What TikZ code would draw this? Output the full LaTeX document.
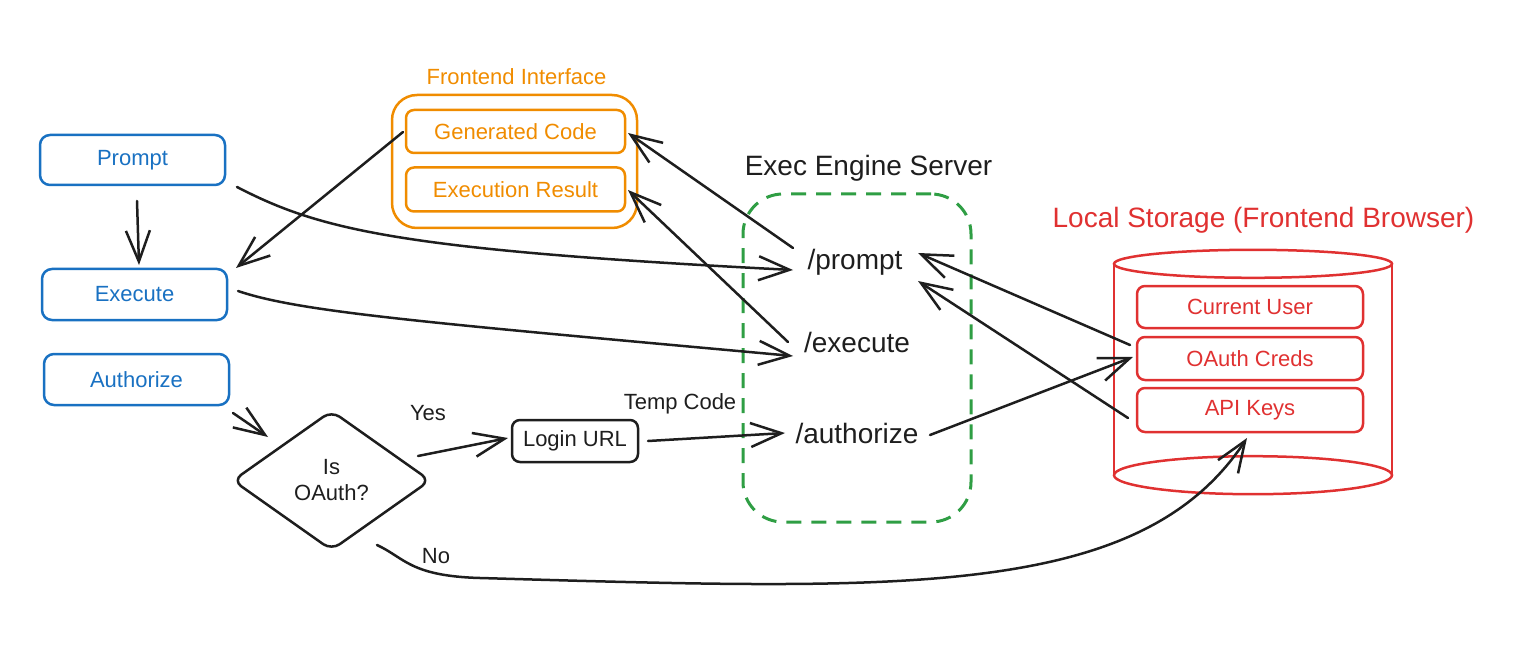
\documentclass[tikz,border=0pt]{standalone}
\usepackage{fontspec}
\setmainfont{Liberation Sans}
\usetikzlibrary{arrows.meta,shapes.geometric,calc}
\definecolor{cblue}{HTML}{1971C2}
\definecolor{corange}{HTML}{F08C00}
\definecolor{cgreen}{HTML}{2F9E44}
\definecolor{cred}{HTML}{E03131}
\definecolor{ink}{HTML}{1E1E1E}
\begin{document}
\begin{tikzpicture}[x=1pt,y=-1pt,
  txt/.style={font=\fontsize{22}{26}\selectfont},
  big/.style={font=\fontsize{28}{32}\selectfont},
  bluebox/.style={draw=cblue, line width=2.5pt, rounded corners=10pt, minimum width=185pt, minimum height=50pt, text=cblue, txt, inner sep=0pt},
  orangebox/.style={draw=corange, line width=2.5pt, rounded corners=8pt, minimum width=219pt, minimum height=43pt, text=corange, txt, inner sep=0pt},
  redbox/.style={draw=cred, line width=2.5pt, rounded corners=8pt, minimum width=226pt, minimum height=43pt, text=cred, txt, inner sep=0pt},
  endpoint/.style={text=ink, big, inner sep=0pt},
  lbl/.style={text=ink, txt, inner sep=0pt},
  arr/.style={draw=ink, line width=2.5pt, line cap=round,
    -{Straight Barb[length=31pt,width=24pt,line width=2.5pt]}},
]
\useasboundingbox (0,0) rectangle (1525,668);

% left column
\node[bluebox] (prompt) at (132.5,160) {Prompt};
\node[bluebox,minimum height=51pt] (execute) at (134.5,294.5) {Execute};
\node[bluebox,minimum height=51pt] (authorize) at (136.5,379.5) {Authorize};

% frontend interface
\node[draw=corange, line width=2.5pt, rounded corners=25pt, minimum width=245pt, minimum height=133pt, inner sep=0pt] (fe) at (514.5,161.5) {};
\node[text=corange, txt, inner sep=0pt] (felabel) at (516.5,77) {Frontend Interface};
\node[orangebox] (gen) at (515.5,131.5) {Generated Code};
\node[orangebox,minimum height=44pt] (res) at (515.5,189.5) {Execution Result};

% exec engine server
\node[draw=cgreen, line width=3pt, dash pattern=on 15pt off 10pt, rounded corners=40pt, minimum width=228pt, minimum height=328pt, inner sep=0pt] (eng) at (857,358) {};
\node[text=ink, big, inner sep=0pt] (englabel) at (868.5,168) {Exec Engine Server};
\node[endpoint] (pprompt) at (855,262) {/prompt};
\node[endpoint] (pexec) at (857,342) {/execute};
\node[endpoint] (pauth) at (857,433) {/authorize};

% decision
\node[diamond, draw=ink, line width=2.5pt, rounded corners=10pt, minimum width=198pt, minimum height=140pt, inner sep=0pt, text=ink, txt, align=center] (dec) at (331.5,480.5) {Is\\OAuth?};
\node[draw=ink, line width=2.5pt, rounded corners=8pt, minimum width=126pt, minimum height=42pt, inner sep=0pt, text=ink, txt] (login) at (575,441) {Login URL};

% local storage
\node[text=cred, big, inner sep=0pt] (stlabel) at (1263.5,220) {Local Storage (Frontend Browser)};
\node[minimum width=278pt, minimum height=211pt, inner sep=0pt] (store) at (1253,369.5) {};
\draw[cred, line width=2.5pt] (store.north west) -- (store.south west);
\draw[cred, line width=2.5pt] (store.north east) -- (store.south east);
\draw[cred, line width=2.5pt, fill=white] (store.north) ellipse [x radius=139pt, y radius=14pt];
\draw[cred, line width=2.5pt] (store.south) ellipse [x radius=139pt, y radius=19pt];
\node[redbox,minimum height=42pt] (cu) at (1250,307) {Current User};
\node[redbox] (oc) at (1250,358.5) {OAuth Creds};
\node[redbox,minimum height=44pt] (ak) at (1250,410) {API Keys};

% labels
\node[lbl] (yes) at (428,413) {Yes};
\node[lbl] (temp) at (680,404) {Temp Code};
\node[lbl] (no) at (436,556) {No};

% connectors
\draw[arr] ($(prompt)+(4.5,41)$) -- ($(execute)+(4.5,-29.5)$);
\draw[arr] ($(gen)+(-112.5,0.5)$) -- ($(execute)+(101.5,-26.5)$);
\draw[arr] ($(prompt)+(104.5,27)$) .. controls (320,230) and (400,250) .. ($(pprompt)+(-62,8)$);
\draw[arr] ($(pprompt)+(-62,-14)$) -- ($(gen)+(112.5,1.5)$);
\draw[arr] ($(execute)+(103.5,-3.5)$) .. controls (300,312) and (420,322) .. ($(pexec)+(-64,14)$);
\draw[arr] ($(pexec)+(-69,0)$) -- ($(res)+(112.5,0.5)$);
\draw[arr] ($(authorize)+(96.5,33.5)$) -- ($(dec)+(-63.5,-43.5)$);
\draw[arr] ($(dec)+(86.5,-24.5)$) -- ($(login)+(-67,-3)$);
\draw[arr] ($(login)+(73,0)$) -- ($(pauth)+(-72,0)$);
\draw[arr] ($(pauth)+(73,2)$) -- ($(oc)+(-117,-1.5)$);
\draw[arr] ($(oc)+(-120,-13.5)$) -- ($(pprompt)+(63,-9)$);
\draw[arr] ($(ak)+(-122,8)$) -- ($(pprompt)+(63,19)$);
\draw[arr] ($(dec)+(45.5,64.5)$) .. controls (405,558) and (410,576) .. (480,578)
  .. controls (900,590) and (1140,600) .. ($(ak)+(-3,28)$);
\end{tikzpicture}
\end{document}
